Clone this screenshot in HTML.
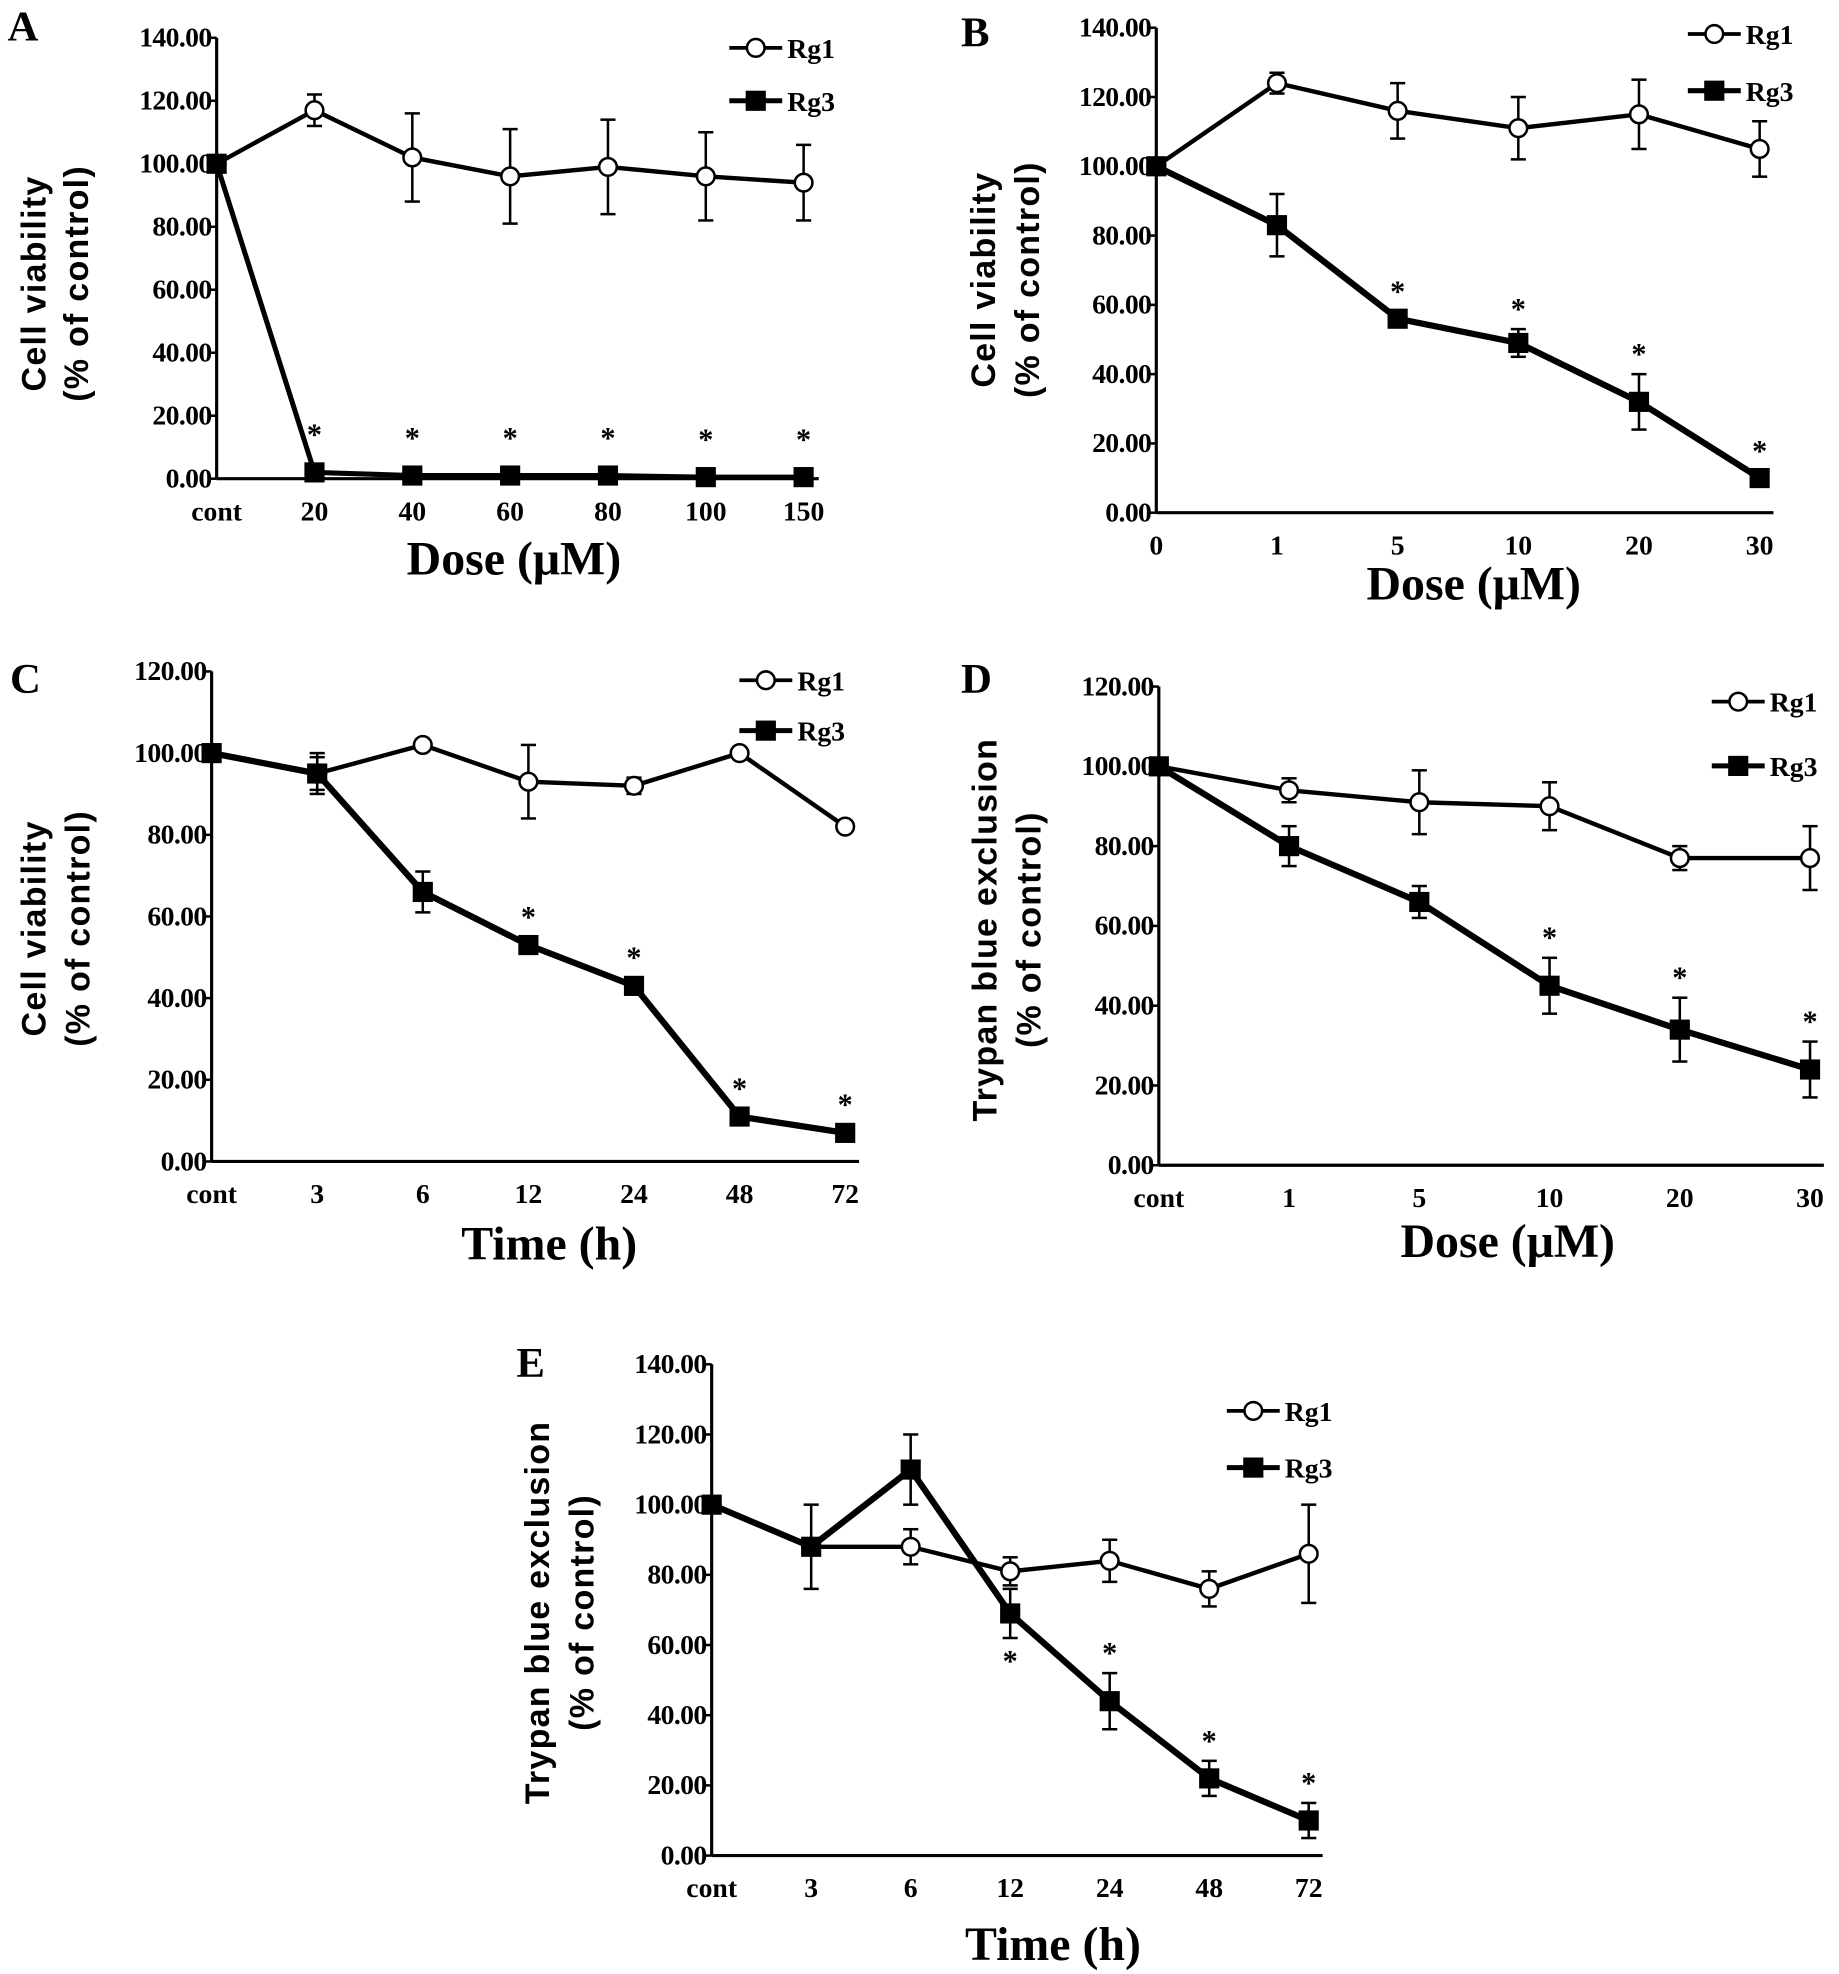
<!DOCTYPE html>
<html><head><meta charset="utf-8"><style>
html,body{margin:0;padding:0;background:#fff;}
svg{display:block;}
text{font-family:"Liberation Serif",serif;font-weight:bold;fill:#000;}
.sans{font-family:"Liberation Sans",sans-serif;}
</style></head><body>
<svg id="fig" width="1839" height="1974" viewBox="0 0 1460 1567" preserveAspectRatio="none" xmlns="http://www.w3.org/2000/svg"></svg>
<script>
// Panel A
const catsA=["cont","20","40","60","80","100","150"];
const rg1A=[100,117,102,96,99,96,94];
const rg1ErrA=[0,5,14,15,15,14,12];
const rg3A=[100,2,1,1,1,0.5,0.5];
const rg3ErrA=[0,0,0,0,0,0,0];
const starsA=[1,2,3,4,5,6];
const ticksA=["0.00","20.00","40.00","60.00","80.00","100.00","120.00","140.00"];
// Panel B
const catsB=["0","1","5","10","20","30"];
const rg1B=[100,124,116,111,115,105];
const rg1ErrB=[0,3,8,9,10,8];
const rg3B=[100,83,56,49,32,10];
const rg3ErrB=[0,9,2,4,8,2];
const starsB=[2,3,4,5];
const ticksB=["0.00","20.00","40.00","60.00","80.00","100.00","120.00","140.00"];
// Panel C
const catsC=["cont","3","6","12","24","48","72"];
const rg1C=[100,95,102,93,92,100,82];
const rg1ErrC=[0,4,1,9,2,1,0];
const rg3C=[100,95,66,53,43,11,7];
const rg3ErrC=[0,5,5,2,2,2,2];
const starsC=[3,4,5,6];
const ticksC=["0.00","20.00","40.00","60.00","80.00","100.00","120.00"];
// Panel D
const catsD=["cont","1","5","10","20","30"];
const rg1D=[100,94,91,90,77,77];
const rg1ErrD=[0,3,8,6,3,8];
const rg3D=[100,80,66,45,34,24];
const rg3ErrD=[0,5,4,7,8,7];
const starsD=[3,4,5];
const ticksD=["0.00","20.00","40.00","60.00","80.00","100.00","120.00"];
// Panel E
const catsE=["cont","3","6","12","24","48","72"];
const rg1E=[100,88,88,81,84,76,86];
const rg1ErrE=[0,0,5,4,6,5,14];
const rg3E=[100,88,110,69,44,22,10];
const rg3ErrE=[0,12,10,7,8,5,5];
const starsE=[3,4,5,6];
const starsBelowE=[3];
const ticksE=["0.00","20.00","40.00","60.00","80.00","100.00","120.00","140.00"];

const NS="http://www.w3.org/2000/svg";
const svg=document.getElementById('fig');
function mk(tag,attrs,parent,txt){const e=document.createElementNS(NS,tag);for(const k in attrs)e.setAttribute(k,attrs[k]);if(txt!==undefined)e.textContent=txt;(parent||svg).appendChild(e);return e;}

function panel(p){
  const g=mk('g',{});
  
  
  const yMax=(p.ticks.length-1)*20;
  const ys=v=>p.y0-(v/yMax)*(p.y0-p.yTop);
  const n=p.cats.length;
  const xs=i=>p.x0+i*(p.xLast-p.x0)/(n-1);
  const L=mk('text',{x:p.lx,y:p.ly,'font-size':34},g,p.id);
  
  const ya=mk('line',{x1:p.x0,y1:p.yTop,x2:p.x0,y2:p.y0,stroke:'#000','stroke-width':2.5},g);
  
  const xa=mk('line',{x1:p.x0,y1:p.y0,x2:p.xEnd,y2:p.y0,stroke:'#000','stroke-width':2.5},g);
  
  p.ticks.forEach((t,i)=>{const y=ys(i*20);
    mk('line',{x1:p.x0-5,y1:y,x2:p.x0,y2:y,stroke:'#000','stroke-width':2},g);
    const tt=mk('text',{x:p.x0-4,y:y+7,'font-size':22,'text-anchor':'end','letter-spacing':'-0.5'},g,t);
    });
  p.cats.forEach((c,i)=>{const tt=mk('text',{x:xs(i),y:p.y0+33,'font-size':22,'text-anchor':'middle'},g,c);
    });
  const xt=mk('text',{x:p.xlx,y:p.xly,'font-size':38,'text-anchor':'middle'},g,p.xTitle);
  
  p.yTitles.forEach((t,k)=>{const yt=mk('text',{x:0,y:0,'font-size':27,'text-anchor':'middle','class':'sans','transform':`translate(${p.ylx[k]},${p.ylc}) rotate(-90)`,'letter-spacing':'1'},g,t);
    });
  const series=[{v:p.rg1,e:p.rg1Err,name:'rg1',w:p.w1||3.5},{v:p.rg3,e:p.rg3Err,name:'rg3',w:p.w3||5}];
  series.forEach(s=>{
    const pts=s.v.map((v,i)=>xs(i)+','+ys(v)).join(' ');
    const pl=mk('polyline',{points:pts,fill:'none',stroke:'#000','stroke-width':s.w},g);
    
    s.v.forEach((v,i)=>{if(s.e[i]>0){const x=xs(i);
      mk('line',{x1:x,y1:ys(v+s.e[i]),x2:x,y2:ys(v-s.e[i]),stroke:'#000','stroke-width':2},g);
      mk('line',{x1:x-6,y1:ys(v+s.e[i]),x2:x+6,y2:ys(v+s.e[i]),stroke:'#000','stroke-width':2},g);
      mk('line',{x1:x-6,y1:ys(v-s.e[i]),x2:x+6,y2:ys(v-s.e[i]),stroke:'#000','stroke-width':2},g);}});
  });
  p.rg1.forEach((v,i)=>{const c=mk('circle',{cx:xs(i),cy:ys(v),r:7,fill:'#fff',stroke:'#000','stroke-width':2},g);
    });
  p.rg3.forEach((v,i)=>{const r=mk('rect',{x:xs(i)-8,y:ys(v)-8,width:16,height:16,fill:'#000'},g);
    });
  p.stars.forEach(i=>{const below=(p.starsBelow||[]).includes(i);
    const v=p.rg3[i];const e=p.rg3Err[i];
    const y=below?ys(v-e)+26:ys(v+e)-(p.starGap||8);
    const s=mk('text',{x:xs(i),y:y,'font-size':24,'text-anchor':'middle'},g,'*');
    });
  [[p.leg1,'Rg1',0],[p.leg2,'Rg3',1]].forEach(([y,lab,k])=>{
    const lg=mk('g',{},g);
    mk('line',{x1:p.legX,y1:y,x2:p.legX+42,y2:y,stroke:'#000','stroke-width':k?4:3},lg);
    if(k)mk('rect',{x:p.legX+13,y:y-8,width:16,height:16,fill:'#000'},lg);
    else mk('circle',{cx:p.legX+21,cy:y,r:7,fill:'#fff',stroke:'#000','stroke-width':2},lg);
    mk('text',{x:p.legX+46,y:y+8,'font-size':22},lg,lab);});
}
panel({id:'A',cats:catsA,rg1:rg1A,rg1Err:rg1ErrA,rg3:rg3A,rg3Err:rg3ErrA,stars:starsA,ticks:ticksA,
  x0:172,xLast:638,xEnd:650,y0:380,yTop:30,lx:6,ly:32,xTitle:'Dose (μM)',xlx:408,xly:456,starGap:22,
  yTitles:['Cell viability','(% of control)'],ylx:[36,70],ylc:225,legX:579,leg1:38,leg2:80,w1:3.5,w3:4});
panel({id:'B',cats:catsB,rg1:rg1B,rg1Err:rg1ErrB,rg3:rg3B,rg3Err:rg3ErrB,stars:starsB,ticks:ticksB,
  x0:918,xLast:1397,xEnd:1408,y0:407,yTop:22,lx:763,ly:37,xTitle:'Dose (μM)',xlx:1170,xly:476,
  yTitles:['Cell viability','(% of control)'],ylx:[790,825],ylc:222,legX:1340,leg1:27,leg2:72});
panel({id:'C',cats:catsC,rg1:rg1C,rg1Err:rg1ErrC,rg3:rg3C,rg3Err:rg3ErrC,stars:starsC,ticks:ticksC,
  x0:168,xLast:671,xEnd:682,y0:922,yTop:533,lx:8,ly:550,xTitle:'Time (h)',xlx:436,xly:1000,
  yTitles:['Cell viability','(% of control)'],ylx:[36,71],ylc:737,legX:587,leg1:540,leg2:580});
panel({id:'D',cats:catsD,rg1:rg1D,rg1Err:rg1ErrD,rg3:rg3D,rg3Err:rg3ErrD,stars:starsD,ticks:ticksD,
  x0:920,xLast:1437,xEnd:1448,y0:925,yTop:545,lx:763,ly:550,xTitle:'Dose (μM)',xlx:1197,xly:998,
  yTitles:['Trypan blue exclusion','(% of control)'],ylx:[791,826],ylc:738,legX:1359,leg1:557,leg2:608});
panel({id:'E',cats:catsE,rg1:rg1E,rg1Err:rg1ErrE,rg3:rg3E,rg3Err:rg3ErrE,stars:starsE,starsBelow:starsBelowE,ticks:ticksE,
  x0:565,xLast:1039,xEnd:1050,y0:1473,yTop:1083,lx:410,ly:1093,xTitle:'Time (h)',xlx:836,xly:1556,
  yTitles:['Trypan blue exclusion','(% of control)'],ylx:[436,471],ylc:1280,legX:974,leg1:1120,leg2:1165});
</script>
</body></html>
